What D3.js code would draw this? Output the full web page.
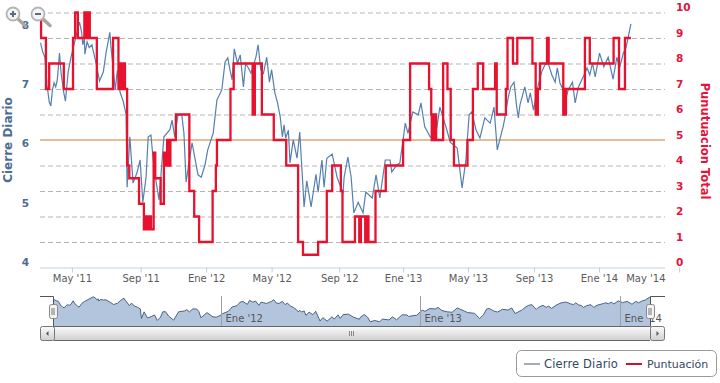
<!DOCTYPE html>
<html>
<head>
<meta charset="utf-8">
<script src="https://cdnjs.cloudflare.com/ajax/libs/d3/7.8.5/d3.min.js"></script>
<style>
body { margin: 0; background: #fff; }
svg { display: block; font-family: "DejaVu Sans", sans-serif; }
</style>
</head>
<body>
<svg width="720" height="383"></svg>
<script>
// days are counted from the first date of the chart
var firstDate = new Date(2011, 2, 3);
var lastDate = new Date(2014, 4, 1);

var closeDays = [1,5,9,13,17,20,23,26,29,32,36,39,44,47,52,57,67,73,77,79,82,83,87,91,96,98,105,110,117,122,129,132,137,139,143,148,154,159,161,166,172,179,185,190,196,200,205,211,220,229,240,244,249,255,262,266,270,281,292,298,305,310,320,327,336,342,347,351,355,359,365,370,376,380,385,390,399,403,408,413,419,424,428,434,439,444,448,451,454,459,462,468,475,480,486,488,493,501,510,514,521,525,530,540,549,560,562,569,575,580,588,597,602,614,621,628,638,647,650,660,665,671,675,680,689,699,704,711,721,730,739,752,758,771,780,787,793,798,806,813,822,832,839,845,854,856,859,865,870,876,881,884,887,896,902,906,912,920,927,933,939,946,952,956,961,967,970,976,984,989,995,1007,1011,1016,1021,1026,1034,1042,1050,1059,1066,1071,1078,1083,1092];
var closeValues = [7.78,7.63,7.54,7.07,6.79,6.72,6.99,7.11,7.04,7.16,7.61,7.27,6.94,6.80,7.29,7.53,7.91,8.13,7.96,7.75,7.86,7.59,7.80,7.70,7.75,7.66,7.38,7.14,7.29,7.61,7.96,7.63,7.19,6.99,7.32,6.95,6.79,6.58,5.35,6.20,5.42,5.59,5.81,5.10,5.52,6.20,6.23,5.64,5.14,6.20,6.32,6.48,6.20,6.57,6.57,6.26,5.44,6.10,5.56,5.52,5.73,5.98,6.26,6.82,6.99,7.46,7.53,7.33,7.16,7.68,7.44,7.58,7.04,7.44,7.36,7.27,7.54,7.75,7.33,7.27,7.54,7.12,7.33,6.94,6.77,6.53,6.20,6.40,6.18,6.31,5.76,6.15,5.84,6.28,5.35,5.02,5.46,5.02,5.57,5.27,5.81,5.35,5.84,5.91,5.52,5.25,5.52,5.86,5.52,4.92,5.10,4.92,5.27,5.17,5.56,5.17,5.81,5.81,5.61,5.73,5.76,6.15,6.43,6.26,6.62,6.57,6.77,6.37,6.20,6.15,6.70,6.31,6.11,6.01,5.34,5.81,6.57,6.62,6.31,6.18,6.52,6.43,6.70,5.98,6.31,6.37,6.52,6.85,7.04,7.12,6.70,6.52,6.74,7.04,6.77,6.94,6.65,7.04,7.29,7.41,7.44,7.24,7.12,7.36,7.10,6.99,6.77,6.99,7.12,6.77,7.04,7.27,7.36,7.24,7.44,7.21,7.61,7.38,7.54,7.17,7.54,7.36,7.61,7.70,8.10];

var scoreDays = [1,2,11,17,44,61,65,70,82,85,88,92,105,135,145,146,149,151,153,155,157,161,165,183,192,193,195,197,199,200,202,204,205,210,213,223,229,233,235,237,238,240,241,251,276,285,294,319,325,327,352,358,393,397,410,432,455,477,486,514,530,540,556,559,582,590,593,601,604,607,620,639,671,684,719,723,724,726,728,730,732,733,745,753,759,765,790,800,809,819,841,844,861,864,874,882,910,916,920,924,937,940,967,969,970,972,1007,1016,1060,1070,1081,1092];
var scoreValues = [10,9,7,8,7,9,10,9,10,9,10,9,7,9,7,8,7,8,7,8,7,4,3.5,2.5,1.5,2,1.5,2,1.5,2,1.5,2,1.5,4.5,3.5,2.5,4.5,4,5,4,5,4,5,6,3,2,1,3,4,5,7,8,6,8,6,5,4,1,0.5,1,3,4,3,1,2,1,2,1,2,1,3,4,5,8,7,6,5,6,5,6,5,5,8,7,5,4,5,7,8,7,8,6,7,9,8,9,8,6,7,8,9,8,6,7,6,7,9,8,9,7,9,9];

var leftTicks = [4,5,6,7,8];
var rightTicks = [0,1,2,3,4,5,6,7,8,9,10];
var scoreLimit = 5;

// the last tick falls past the end of the plot, its label stays inside
var tickDates = [new Date(2011,4,1),new Date(2011,8,5),new Date(2012,0,4),new Date(2012,4,4),new Date(2012,8,6),new Date(2013,0,2),new Date(2013,4,2),new Date(2013,8,1),new Date(2013,11,30),new Date(2014,4,27)];
var tickLabels = ["May '11","Sep '11","Ene '12","May '12","Sep '12","Ene '13","May '13","Sep '13","Ene '14","May '14"];
var navDates = [new Date(2012,0,4),new Date(2013,0,2),new Date(2014,0,3)];
var navLabels = ["Ene '12","Ene '13","Ene '14"];

function dayDate(n) { return d3.timeDay.offset(firstDate, n); }

var svg = d3.select("svg"),
    margin = {top: 12.5, right: 55, bottom: 115.5, left: 40},
    width = +svg.attr("width"),
    height = +svg.attr("height");

var x = d3.scaleTime()
    .domain([firstDate, lastDate])
    .range([margin.left, width - margin.right]);

var yClose = d3.scaleLinear()
    .domain([4, 8.293])
    .range([height - margin.bottom, margin.top]);

var yScore = d3.scaleLinear()
    .domain([0, 10])
    .range([height - margin.bottom, margin.top]);

// grid comes from the right axis
svg.append("g")
    .attr("transform", "translate(" + margin.left + ",0)")
    .call(d3.axisLeft(yScore).tickValues(rightTicks.slice(1)).tickSize(-(width - margin.right - margin.left)).tickFormat(""))
    .call(function(g) { g.select(".domain").remove(); })
    .selectAll("line")
    .attr("stroke", "#b5b5b5")
    .attr("stroke-dasharray", "5,3");

svg.append("line")
    .attr("x1", margin.left)
    .attr("x2", width - margin.right)
    .attr("y1", yScore(scoreLimit))
    .attr("y2", yScore(scoreLimit))
    .attr("stroke", "#e6bd97")
    .attr("stroke-width", 2);

var xAxis = svg.append("g")
    .attr("transform", "translate(0," + (height - margin.bottom) + ")")
    .call(d3.axisBottom(x).tickValues(tickDates).tickSize(5).tickFormat(function(d, i) { return tickLabels[i]; }));
xAxis.select(".domain").attr("stroke", "#c0d0e0").attr("d", "M" + margin.left + ",0.5H" + (width - margin.right));
xAxis.selectAll("line").attr("stroke", "#c0d0e0");
xAxis.selectAll("text")
    .attr("y", 7.5)
    .attr("font-size", 10)
    .attr("font-family", "DejaVu Sans")
    .attr("fill", "#5a5a5a");
xAxis.selectAll("text").filter(function(d, i) { return i == tickDates.length - 1; })
    .attr("text-anchor", "end")
    .attr("x", width - margin.right - x(tickDates[tickDates.length - 1]));

var leftAxis = svg.append("g")
    .attr("transform", "translate(" + margin.left + ",0)")
    .call(d3.axisLeft(yClose).tickValues(leftTicks).tickSize(0).tickFormat(d3.format("d")));
leftAxis.select(".domain").remove();
leftAxis.selectAll("text")
    .attr("x", -11)
    .attr("dy", "-0.18em")
    .attr("font-size", 10.5)
    .attr("font-weight", "bold")
    .attr("font-family", "DejaVu Sans")
    .attr("fill", "#4d6d94");

var rightAxis = svg.append("g")
    .attr("transform", "translate(" + (width - margin.right) + ",0)")
    .call(d3.axisRight(yScore).tickValues(rightTicks).tickSize(0).tickFormat(d3.format("d")));
rightAxis.select(".domain").remove();
rightAxis.selectAll("text")
    .attr("x", 11)
    .attr("dy", "-0.18em")
    .attr("font-size", 10.5)
    .attr("font-weight", "bold")
    .attr("font-family", "DejaVu Sans")
    .attr("fill", "#e0143c");

svg.append("text")
    .attr("transform", "translate(12,140) rotate(-90)")
    .attr("text-anchor", "middle")
    .attr("font-size", 12)
    .attr("font-weight", "bold")
    .attr("fill", "#4d6d94")
    .text("Cierre Diario");

svg.append("text")
    .attr("transform", "translate(701,141) rotate(90)")
    .attr("text-anchor", "middle")
    .attr("font-size", 11.5)
    .attr("font-weight", "bold")
    .attr("fill", "#e0143c")
    .text("Punutuacion Total");

var closeLine = d3.line()
    .x(function(d, i) { return x(dayDate(closeDays[i])); })
    .y(function(d) { return yClose(d); });

var scoreLine = d3.line()
    .curve(d3.curveStepAfter)
    .x(function(d, i) { return x(dayDate(scoreDays[i])); })
    .y(function(d) { return yScore(d); });

svg.append("path")
    .datum(closeValues)
    .attr("fill", "none")
    .attr("stroke", "#5580ae")
    .attr("stroke-width", 1.2)
    .attr("d", closeLine);

svg.append("path")
    .datum(scoreValues)
    .attr("fill", "none")
    .attr("stroke", "#e8122f")
    .attr("stroke-width", 2.3)
    .attr("d", scoreLine);

// zoom buttons
[13, 38].forEach(function(cx, i) {
  var b = svg.append("g").attr("transform", "translate(" + cx + ",14)");
  b.append("line").attr("x1", 5).attr("y1", 5).attr("x2", 12).attr("y2", 11.5)
      .attr("stroke", "#a6a6a6").attr("stroke-width", 3.5).attr("stroke-linecap", "round");
  b.append("circle").attr("r", 6.5).attr("fill", "#f4f4f4").attr("stroke", "#b4b4b4").attr("stroke-width", 1.8);
  b.append("line").attr("x1", -3).attr("x2", 3).attr("stroke", "#5c6b80").attr("stroke-width", 2);
  if (i == 0) b.append("line").attr("y1", -3).attr("y2", 3).attr("stroke", "#5c6b80").attr("stroke-width", 2);
});

// navigator
var navTop = 296, navBottom = 327, navLeft = 54, navRight = 650;
var firstClose = dayDate(closeDays[0]), lastClose = dayDate(closeDays[closeDays.length - 1]);

var navX = d3.scaleTime()
    .domain([firstClose, lastClose])
    .range([navLeft, navRight]);

var navY = d3.scaleLinear()
    .domain([4.26, 8.23])
    .range([navBottom, navTop]);

svg.append("path")
    .datum(closeValues)
    .attr("fill", "#b3c5dd")
    .attr("d", d3.area()
      .x(function(d, i) { return navX(dayDate(closeDays[i])); })
      .y0(navBottom)
      .y1(function(d) { return navY(d); }));

svg.append("path")
    .datum(closeValues)
    .attr("fill", "none")
    .attr("stroke", "#4a6285")
    .attr("d", d3.line()
      .x(function(d, i) { return navX(dayDate(closeDays[i])); })
      .y(function(d) { return navY(d); }));

navDates.forEach(function(d, i) {
  var px = Math.round(navX(d)) + 0.5;
  svg.append("line")
      .attr("x1", px).attr("x2", px)
      .attr("y1", navTop).attr("y2", navBottom)
      .attr("stroke", "#9aa0a8");
  svg.append("text")
      .attr("x", px + 4)
      .attr("y", 322)
      .attr("font-size", 10)
      .attr("fill", "#555")
      .text(navLabels[i]);
});

svg.append("path")
    .attr("d", "M40,296.5H" + (navLeft - 0.5) + "V" + navBottom + "M" + (navRight + 0.5) + "," + navBottom + "V296.5H665")
    .attr("fill", "none")
    .attr("stroke", "#555");

// scrollbar
var defs = svg.append("defs");
var grad = defs.append("linearGradient").attr("id", "bar").attr("x1", 0).attr("x2", 0).attr("y1", 0).attr("y2", 1);
grad.append("stop").attr("offset", "0%").attr("stop-color", "#fbfbfb");
grad.append("stop").attr("offset", "100%").attr("stop-color", "#cfcfcf");

svg.append("rect")
    .attr("x", 54.5).attr("y", 326.5).attr("width", 596).attr("height", 14)
    .attr("fill", "url(#bar)");
svg.append("path")
    .attr("d", "M54,326.5H650M54,340.5H650")
    .attr("stroke", "#666");

[[40.5, -1], [650.5, 1]].forEach(function(b) {
  svg.append("rect")
      .attr("x", b[0]).attr("y", 326.5).attr("width", 14).attr("height", 14).attr("rx", 2)
      .attr("fill", "url(#bar)").attr("stroke", "#777");
  var c = b[0] + 7;
  svg.append("path")
      .attr("d", "M" + (c + b[1] * 1.5) + ",333.5L" + (c - b[1] * 1) + ",331V336Z")
      .attr("fill", "#555");
});

[349, 351, 353].forEach(function(gx) {
  svg.append("line").attr("x1", gx + 0.5).attr("x2", gx + 0.5).attr("y1", 331).attr("y2", 336)
      .attr("stroke", "#888");
});

[navLeft - 1, navRight].forEach(function(hx) {
  svg.append("rect")
      .attr("x", hx - 3.5).attr("y", 304.5).attr("width", 8).attr("height", 14).attr("rx", 2)
      .attr("fill", "#f2f2f2").attr("stroke", "#888");
  svg.append("path")
      .attr("d", "M" + (hx - 1) + ",308V315M" + (hx + 1) + ",308V315")
      .attr("stroke", "#777");
});

// legend
var legend = svg.append("g");
legend.append("rect")
    .attr("x", 516.5).attr("y", 350.5).attr("width", 200).attr("height", 26).attr("rx", 5)
    .attr("fill", "#fff").attr("stroke", "#999");
legend.append("line").attr("x1", 524).attr("x2", 540).attr("y1", 364).attr("y2", 364)
    .attr("stroke", "#a3acb8").attr("stroke-width", 2);
legend.append("text").attr("x", 544).attr("y", 368).attr("font-size", 11.5).attr("letter-spacing", 0.15).attr("fill", "#33475f").text("Cierre Diario");
legend.append("line").attr("x1", 626).attr("x2", 642).attr("y1", 364).attr("y2", 364)
    .attr("stroke", "#c8142e").attr("stroke-width", 2);
legend.append("text").attr("x", 647).attr("y", 368).attr("font-size", 11).attr("fill", "#33475f").text("Puntuación");
</script>
</body>
</html>
